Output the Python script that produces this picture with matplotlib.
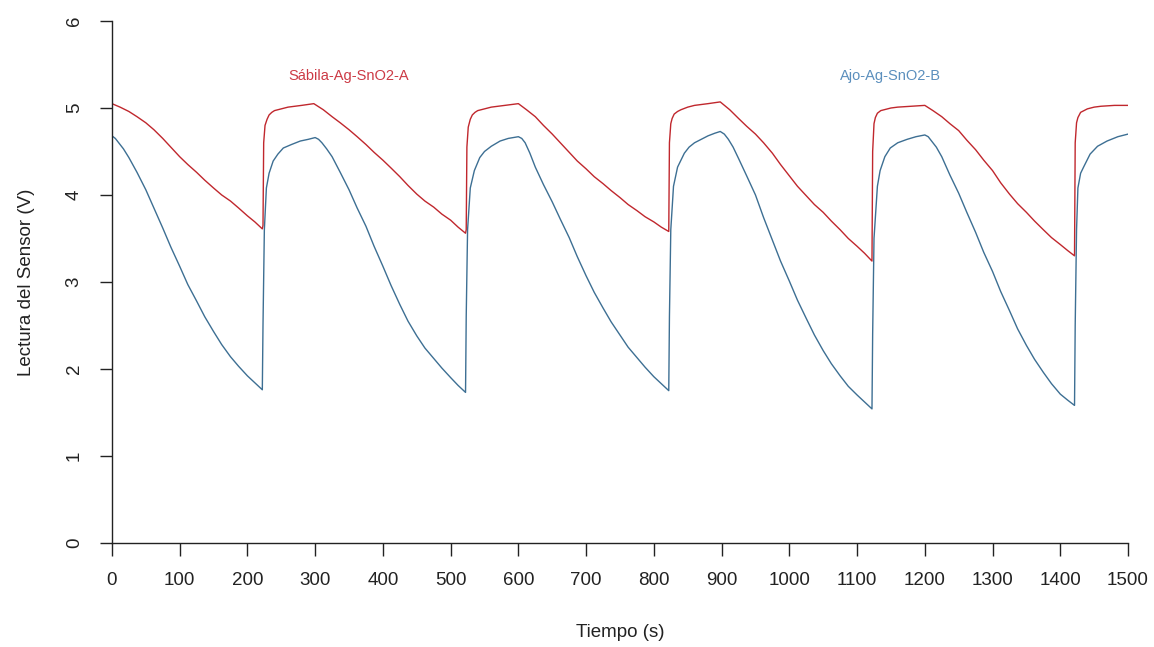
import matplotlib
matplotlib.use("Agg")
import matplotlib.pyplot as plt

plt.rcParams['font.family'] = ['Liberation Sans', 'DejaVu Sans']

# Sábila-Ag-SnO2-A (red)
t_a = [0, 12, 25, 37, 50, 62, 75, 87, 100, 112, 125, 137, 150, 162, 175, 187, 200, 211, 222,
       223, 224, 226, 229, 232, 236, 240, 250, 260, 280, 298,
       312, 325, 337, 350, 362, 375, 387, 400, 412, 425, 437, 450, 462, 475, 487, 500, 511, 522,
       523, 524, 526, 529, 532, 536, 540, 550, 560, 580, 600,
       612, 625, 637, 650, 662, 675, 687, 700, 712, 725, 737, 750, 762, 775, 787, 800, 811, 822,
       823, 825, 827, 830, 835, 840, 850, 860, 880, 898,
       912, 925, 937, 950, 962, 975, 987, 1000, 1012, 1025, 1037, 1050, 1062, 1075, 1087, 1100, 1111, 1122,
       1123, 1125, 1127, 1130, 1135, 1140, 1150, 1160, 1180, 1200,
       1212, 1225, 1237, 1250, 1262, 1275, 1287, 1300, 1312, 1325, 1337, 1350, 1362, 1375, 1387, 1400, 1411, 1421,
       1422, 1424, 1426, 1430, 1435, 1440, 1450, 1460, 1480, 1500]
v_a = [5.05, 5.01, 4.96, 4.90, 4.83, 4.75, 4.65, 4.55, 4.44, 4.35, 4.26, 4.17, 4.08, 4.00, 3.93, 3.85, 3.76, 3.69, 3.61,
       3.65, 4.60, 4.80, 4.87, 4.92, 4.95, 4.97, 4.99, 5.01, 5.03, 5.05,
       4.98, 4.90, 4.83, 4.75, 4.67, 4.58, 4.49, 4.40, 4.31, 4.21, 4.11, 4.01, 3.93, 3.86, 3.78, 3.71, 3.63, 3.56,
       3.60, 4.55, 4.78, 4.87, 4.92, 4.95, 4.97, 4.99, 5.01, 5.03, 5.05,
       4.98, 4.90, 4.80, 4.70, 4.60, 4.49, 4.39, 4.30, 4.21, 4.13, 4.05, 3.97, 3.89, 3.82, 3.75, 3.69, 3.63, 3.58,
       4.60, 4.82, 4.88, 4.93, 4.96, 4.98, 5.01, 5.03, 5.05, 5.07,
       4.98, 4.88, 4.79, 4.70, 4.60, 4.48, 4.35, 4.22, 4.10, 3.99, 3.89, 3.80, 3.70, 3.60, 3.50, 3.41, 3.33, 3.24,
       4.50, 4.82, 4.89, 4.94, 4.97, 4.98, 5.00, 5.01, 5.02, 5.03,
       4.97, 4.90, 4.82, 4.74, 4.63, 4.52, 4.40, 4.28, 4.14, 4.01, 3.90, 3.80, 3.70, 3.60, 3.51, 3.43, 3.36, 3.30,
       4.60, 4.83, 4.89, 4.95, 4.97, 4.99, 5.01, 5.02, 5.03, 5.03]

# Ajo-Ag-SnO2-B (blue)
t_b = [0, 5, 10, 17, 25, 37, 50, 62, 75, 87, 100, 112, 125, 137, 150, 162, 175, 187, 200, 211, 222,
       223, 225, 228, 232, 238, 245, 253, 265, 278, 290, 300,
       305, 310, 317, 325, 337, 350, 362, 375, 387, 400, 412, 425, 437, 450, 462, 475, 487, 500, 511, 522,
       523, 525, 529, 535, 543, 550, 560, 573, 585, 600,
       605, 610, 617, 625, 637, 650, 662, 675, 687, 700, 712, 725, 737, 750, 762, 775, 787, 800, 811, 822,
       823, 825, 829, 835, 845, 852, 860, 870, 880, 890, 898,
       904, 910, 917, 925, 937, 950, 962, 975, 987, 1000, 1012, 1025, 1037, 1050, 1062, 1075, 1087, 1100, 1111, 1122,
       1123, 1125, 1130, 1134, 1141, 1149, 1160, 1174, 1187, 1200,
       1205, 1210, 1217, 1225, 1237, 1250, 1262, 1275, 1287, 1300, 1312, 1325, 1337, 1350, 1362, 1375, 1387, 1400, 1411, 1421,
       1422, 1424, 1426, 1430, 1435, 1444, 1455, 1469, 1485, 1500]
v_b = [4.68, 4.65, 4.60, 4.53, 4.43, 4.26, 4.06, 3.85, 3.62, 3.40, 3.18, 2.97, 2.78, 2.60, 2.43, 2.28, 2.14, 2.03, 1.92, 1.84, 1.76,
       2.50, 3.60, 4.08, 4.25, 4.39, 4.47, 4.54, 4.58, 4.62, 4.64, 4.66,
       4.64, 4.60, 4.53, 4.44, 4.26, 4.06, 3.85, 3.64, 3.41, 3.18, 2.96, 2.74, 2.55, 2.38, 2.24, 2.12, 2.01, 1.90, 1.81, 1.73,
       2.60, 3.60, 4.08, 4.28, 4.43, 4.50, 4.56, 4.62, 4.65, 4.67,
       4.65, 4.60, 4.48, 4.32, 4.12, 3.92, 3.72, 3.51, 3.29, 3.07, 2.88, 2.70, 2.54, 2.39, 2.25, 2.13, 2.02, 1.91, 1.83, 1.75,
       2.60, 3.60, 4.10, 4.32, 4.48, 4.55, 4.60, 4.64, 4.68, 4.71, 4.73,
       4.70, 4.64, 4.55, 4.42, 4.22, 4.00, 3.74, 3.48, 3.24, 3.01, 2.79, 2.58, 2.39, 2.21, 2.06, 1.92, 1.80, 1.70, 1.62, 1.54,
       2.40, 3.50, 4.10, 4.28, 4.44, 4.54, 4.60, 4.64, 4.67, 4.69,
       4.67, 4.62, 4.55, 4.44, 4.23, 4.02, 3.80, 3.57, 3.34, 3.12, 2.89, 2.67, 2.46, 2.27, 2.11, 1.96, 1.83, 1.71, 1.64, 1.58,
       2.50, 3.60, 4.08, 4.25, 4.33, 4.47, 4.56, 4.62, 4.67, 4.70]

x_ticks = list(range(0, 1501, 100))
y_ticks = [0, 1, 2, 3, 4, 5, 6]

red_line, red_text = '#c0272d', '#cc3a45'
blue_line, blue_text = '#3d6f93', '#5b8fbd'

fig = plt.figure(figsize=(11.54, 6.47), dpi=100)
ax = fig.add_axes([0.097, 0.161, 0.8805, 0.8065])

ax.plot(t_a, v_a, color=red_line, lw=1.0)
ax.plot(t_b, v_b, color=blue_line, lw=1.0)

ax.text(350, 5.37, 'Sábila-Ag-SnO2-A', color=red_text, fontsize=10.5,
        ha='center', va='center')
ax.text(1150, 5.37, 'Ajo-Ag-SnO2-B', color=blue_text, fontsize=10.5,
        ha='center', va='center')

ax.set_xlim(0, 1500)
ax.set_ylim(0, 6)
ax.set_xticks(x_ticks)
ax.set_yticks(y_ticks)
for s in ['top', 'right']:
    ax.spines[s].set_visible(False)
for s in ['left', 'bottom']:
    ax.spines[s].set_linewidth(1.0)
    ax.spines[s].set_color('#222222')

ax.tick_params(length=9, width=1.0, color='#222222', labelsize=13.5, pad=12,
               labelcolor='#222222')
ax.tick_params(axis='y', labelrotation=90)
for lab in ax.get_yticklabels():
    lab.set_va('center')

ax.set_xlabel('Tiempo (s)', fontsize=13.5, labelpad=25, color='#222222')
ax.set_ylabel('Lectura del Sensor (V)', fontsize=13.5, labelpad=22, color='#222222')

fig.savefig('out.png', dpi=100)
